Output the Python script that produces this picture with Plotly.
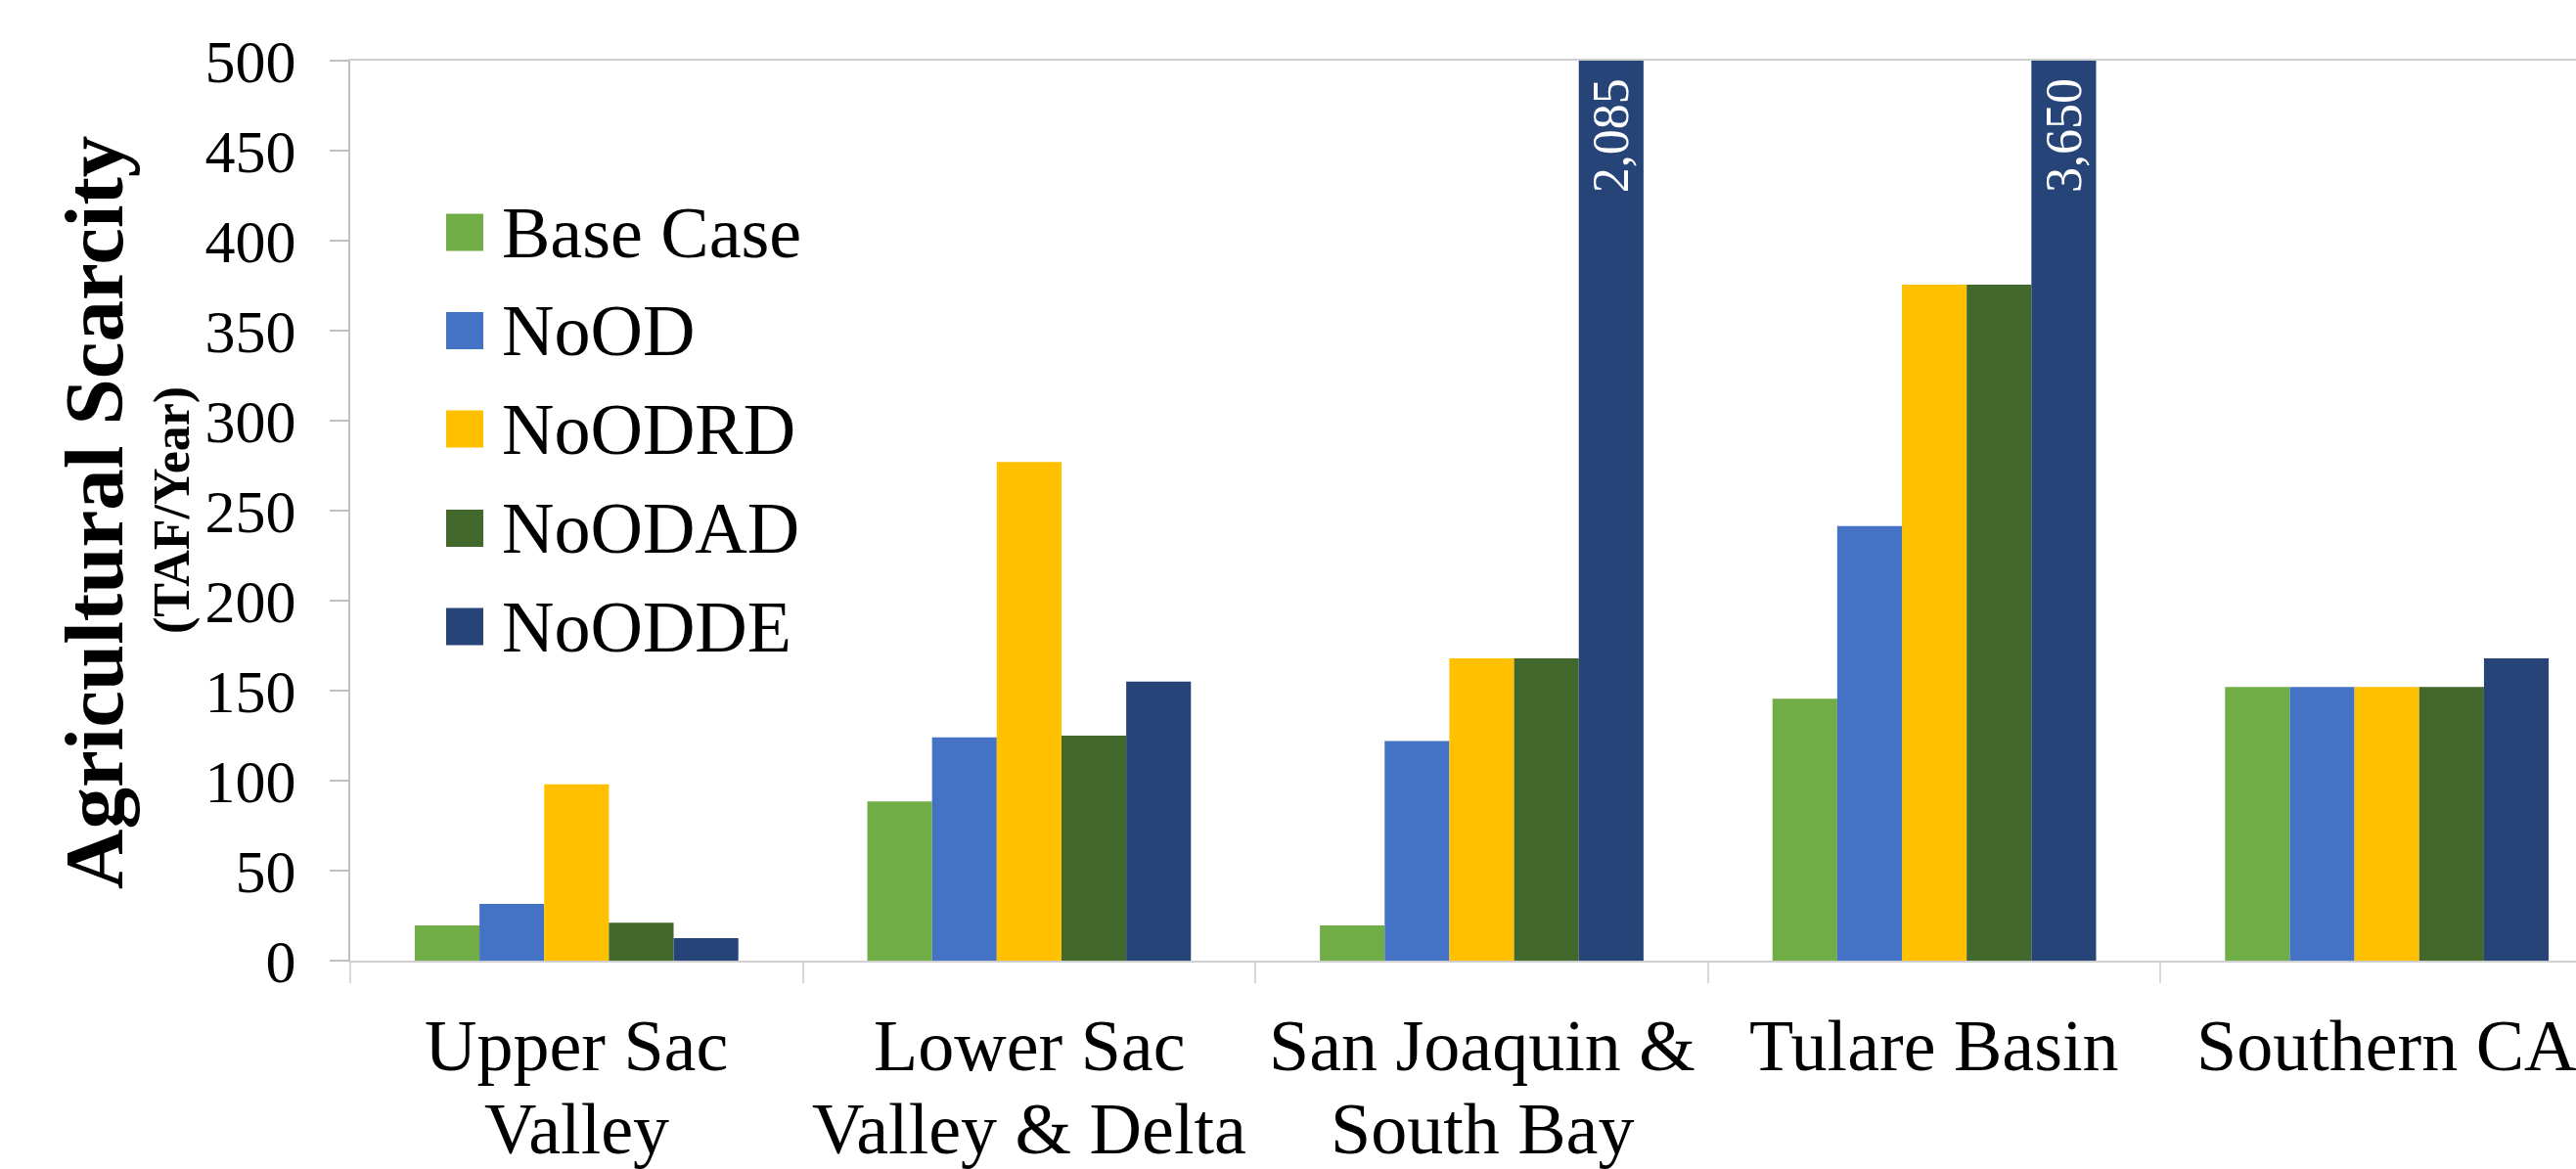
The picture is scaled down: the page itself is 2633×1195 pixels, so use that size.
import plotly.graph_objects as go

# Regions and scenario results (TAF/year)
regions = ["Upper Sac<br>Valley", "Lower Sac<br>Valley & Delta", "San Joaquin &<br>South Bay",
           "Tulare Basin", "Southern CA"]
scenarios = ["Base Case", "NoOD", "NoODRD", "NoODAD", "NoODDE"]
base_case = [19.5, 88.5, 19.5, 145.5, 152]
no_od = [31.5, 124, 122, 241.5, 152]
no_odrd = [98, 277, 168, 375.5, 152]
no_odad = [21, 125, 168, 375.5, 152]
no_odde = [12.5, 155, 2085, 3650, 168]
y_ticks = [0, 50, 100, 150, 200, 250, 300, 350, 400, 450, 500]
y_max = 500

series = [base_case, no_od, no_odrd, no_odad, no_odde]
colors = ["#70AD47", "#4472C4", "#FFC000", "#43682B", "#264478"]

FONT = "Liberation Serif"
W, H = 2633, 1195
PL, PR, PT, PB = 358, 2633, 62, 982   # plot area in pixels
BARGAP = 0.285


def px_x(p):
    return (p - PL) / (PR - PL)


def px_y(p):
    return (PB - p) / (PB - PT)


fig = go.Figure()
for name, vals, col in zip(scenarios, series, colors):
    fig.add_trace(go.Bar(x=list(range(len(regions))), y=vals, name=name, marker_color=col,
                         marker_line_width=0, showlegend=False,
                         hovertext=[r.replace("<br>", " ") for r in regions]))

# Value labels on bars that run past the axis maximum
group_w = 1 - BARGAP
bar_w = group_w / len(scenarios)
annotations = []
for k, vals in enumerate(series):
    offset = -group_w / 2 + bar_w * (k + 0.5)
    for i, v in enumerate(vals):
        if v > y_max:
            annotations.append(dict(
                x=i + offset, y=y_max, xref="x", yref="y",
                text=f"{v:,.0f}", showarrow=False, textangle=-90,
                xanchor="center", yanchor="top", yshift=-16,
                font=dict(family=FONT, size=52, color="white")))

# Category labels, one annotation per text line
line_centers = [1069, 1154]
for i, label in enumerate(regions):
    for j, line in enumerate(label.split("<br>")):
        annotations.append(dict(x=i, y=px_y(line_centers[j]), xref="x", yref="paper",
                                text=line, showarrow=False, xanchor="center", yanchor="middle",
                                font=dict(family=FONT, size=74, color="black")))

# Legend: colour squares with labels
leg_y = [237.5, 338, 438.5, 540, 640.5]
shapes = []
for name, col, cy in zip(scenarios, colors, leg_y):
    shapes.append(dict(type="rect", xref="paper", yref="paper",
                       x0=px_x(456), x1=px_x(494), y0=px_y(cy + 19), y1=px_y(cy - 19),
                       fillcolor=col, line_width=0))
    annotations.append(dict(x=px_x(511), y=px_y(cy), xref="paper", yref="paper",
                            text=name, showarrow=False, xanchor="left", yanchor="middle",
                            font=dict(family=FONT, size=74, color="black")))

# Y-axis title on two lines
annotations.append(dict(x=px_x(96), y=px_y(524), xref="paper", yref="paper",
                        text="<b>Agricultural Scarcity</b>", showarrow=False, textangle=-90,
                        xanchor="center", yanchor="middle",
                        font=dict(family=FONT, size=85, color="black")))
annotations.append(dict(x=px_x(176), y=px_y(522), xref="paper", yref="paper",
                        text="<b>(TAF/Year)</b>", showarrow=False, textangle=-90,
                        xanchor="center", yanchor="middle",
                        font=dict(family=FONT, size=52, color="black")))

fig.update_layout(
    width=W, height=H,
    margin=dict(l=PL, r=W - PR, t=PT, b=H - PB, pad=0),
    barmode="group", bargap=BARGAP, bargroupgap=0,
    plot_bgcolor="white", paper_bgcolor="white",
    font=dict(family=FONT, color="black"),
    annotations=annotations, shapes=shapes,
)
# Ticks sit on the boundaries between regions
fig.update_xaxes(
    range=[-0.5, -0.5 + (PR - PL) / 462.6],
    tickvals=[i - 0.5 for i in range(len(regions) + 1)], showticklabels=False,
    ticks="outside", ticklen=21, tickwidth=1.5, tickcolor="#D9D9D9",
    showline=True, linecolor="#CFCFCF", linewidth=2, mirror=True,
    showgrid=False, zeroline=False,
)
fig.update_yaxes(
    range=[0, y_max], tickvals=y_ticks, ticks="outside", ticklen=19, tickwidth=1.5,
    tickcolor="#BFBFBF", showline=True, linecolor="#BFBFBF", linewidth=2,
    showgrid=False, zeroline=False,
    tickfont=dict(family=FONT, size=62, color="black"), ticklabelstandoff=22,
)

fig.write_html("out.html")
